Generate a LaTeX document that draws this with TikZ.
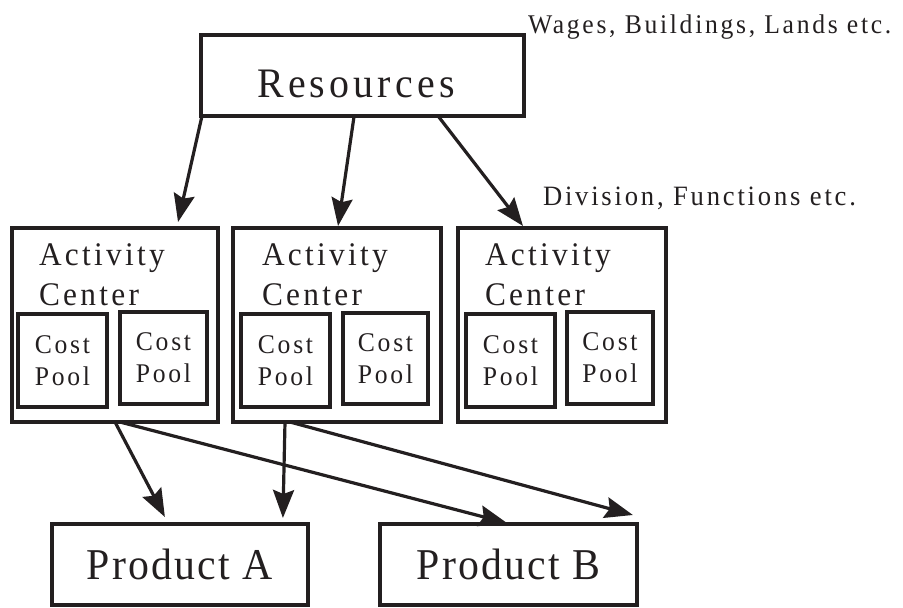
\documentclass[tikz,border=0pt]{standalone}
\usepackage{fontspec}
\setmainfont{Liberation Serif}[FakeStretch=0.95,LetterSpace=10]
\newfontfamily\prodfont{Liberation Serif}[FakeStretch=0.95,LetterSpace=5]
\usetikzlibrary{arrows.meta,calc}
\definecolor{ink}{HTML}{231F20}
\tikzset{
  box/.style={draw=ink, line width=3.3pt, inner sep=0pt, outer sep=0pt, rectangle, text=ink},
  lbl/.style={text=ink, inner sep=0pt, outer sep=0pt},
  pool/.style={box, align=center, font=\fontsize{27}{32}\selectfont},
  prod/.style={box, minimum width=256pt, minimum height=81pt, font=\prodfont\fontsize{44}{50}\selectfont},
  actbox/.style={box, minimum height=194pt},
  arr/.style={draw=ink, line width=3.2pt, -{Stealth[length=28pt,width=21pt,inset=4pt]}}
}
\begin{document}
\begin{tikzpicture}[x=1pt,y=-1pt]
\useasboundingbox (0,0) rectangle (903,608);
% Resources
\node[box, minimum width=323pt, minimum height=81pt] (res) at (362.5,75.5) {};
\node[lbl, anchor=base, font=\fontsize{42}{48}\selectfont] (restxt) at (356,97) {Resources};
\node[lbl, anchor=base west, font=\fontsize{27}{32}\selectfont] (wages) at (528,33) {Wages, Buildings, Lands etc.};
\node[lbl, anchor=base west, font=\fontsize{28}{32}\selectfont] (div) at (543,205) {Division, Functions etc.};
% Activity centers
\node[actbox, minimum width=206pt] (ac1) at (115,325) {};
\node[actbox, minimum width=208pt] (ac2) at (337,325) {};
\node[actbox, minimum width=208pt] (ac3) at (562,325) {};
\foreach \i/\x in {1/39, 2/262, 3/485}{
  \node[lbl, anchor=base west, font=\fontsize{33}{40}\selectfont] (act\i) at (\x,265) {Activity};
  \node[lbl, anchor=base west, font=\fontsize{33}{40}\selectfont] (cen\i) at (\x,305) {Center};
}
% Cost pools
\node[pool, minimum width=89pt, minimum height=93pt] (p11) at (62.5,360.5) {Cost\\Pool};
\node[pool, minimum width=87pt, minimum height=92pt] (p12) at (163.5,358) {Cost\\Pool};
\node[pool, minimum width=89pt, minimum height=93pt] (p21) at (285.5,360.5) {Cost\\Pool};
\node[pool, minimum width=85pt, minimum height=91pt] (p22) at (385.5,358.5) {Cost\\Pool};
\node[pool, minimum width=89pt, minimum height=93pt] (p31) at (510.5,360.5) {Cost\\Pool};
\node[pool, minimum width=86pt, minimum height=92pt] (p32) at (610,358) {Cost\\Pool};
% Products
\node[prod] (pA) at (180,564.5) {Product A};
\node[prod, minimum width=257pt] (pB) at (508.5,564.5) {Product B};
% Arrows from resources
\draw[arr] ($(res.south west)!0.003!(res.south east)$) -- ($(ac1.north west)!0.806!(ac1.north east)+(0,-6)$);
\draw[arr] ($(res.south west)!0.474!(res.south east)$) -- ($(ac2.north west)!0.505!(ac2.north east)+(0,-2)$);
\draw[arr] ($(res.south west)!0.734!(res.south east)$) -- ($(ac3.north west)!0.3125!(ac3.north east)+(0,-2)$);
% Arrows to products
\draw[arr] ($(ac1.south west)!0.5!(ac1.south east)$) -- ($(pA.north west)!0.441!(pA.north east)+(0,-7)$);
\draw[arr] ($(ac1.south west)!0.524!(ac1.south east)$) -- ($(pB.north west)!0.494!(pB.north east)+(0,-1)$);
\draw[arr] ($(ac2.south west)!0.25!(ac2.south east)$) -- ($(pA.north west)!0.902!(pA.north east)+(0,-6)$);
\draw[arr] ($(ac2.south west)!0.274!(ac2.south east)$) -- ($(pB.north west)!0.984!(pB.north east)+(0,-9)$);
\end{tikzpicture}
\end{document}
